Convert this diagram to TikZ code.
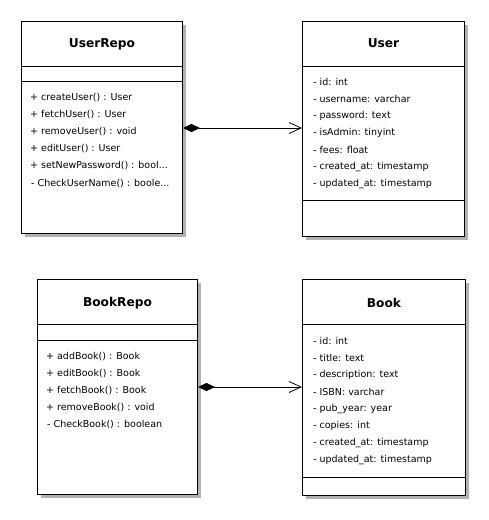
\documentclass[tikz,border=0pt]{standalone}
\usepackage{fontspec}
\setmainfont{DejaVu Sans}
\usetikzlibrary{arrows.meta,shadows}

\tikzset{
  classbox/.style={draw, fill=white, line width=1pt, anchor=north west,
    drop shadow={shadow xshift=3pt, shadow yshift=-3pt, fill=black!30, opacity=1}},
  classname/.style={font=\fontsize{12.2}{14}\bfseries\selectfont},
  member/.style={anchor=west, inner sep=0pt, font=\fontsize{9.5}{11}\selectfont},
  composition/.style={line width=0.8pt,
    {Diamond[length=17pt,width=8pt]}-{Straight Barb[length=12pt,width=11pt,line width=0.8pt]}}
}

\begin{document}
\begin{tikzpicture}[x=1pt, y=-1pt]
  \useasboundingbox[fill=white] (0,0) rectangle (489,520);

  % the four classes
  \node[classbox, minimum width=161pt, minimum height=212pt] (userrepo) at (21,21) {};
  \node[classbox, minimum width=162pt, minimum height=215pt] (user) at (302,21) {};
  \node[classbox, minimum width=160pt, minimum height=215pt] (bookrepo) at (37,279) {};
  \node[classbox, minimum width=163pt, minimum height=216pt] (book) at (302,279) {};

  % UserRepo
  \node[classname] (userrepoName) at (userrepo.north |- 0,44) {UserRepo};
  \draw (userrepo.west |- 0,66) -- (userrepo.east |- 0,66);
  \draw (userrepo.west |- 0,81) -- (userrepo.east |- 0,81);
  \node[member] (ur1) at (30,98) {+ createUser() : User};
  \node[member] (ur2) at (30,115) {+ fetchUser() : User};
  \node[member] (ur3) at (30,132) {+ removeUser() : void};
  \node[member] (ur4) at (30,149) {+ editUser() : User};
  \node[member] (ur5) at (30,166) {+ setNewPassword() : bool...};
  \node[member] (ur6) at (31,184) {- CheckUserName() : boole...};

  % User
  \node[classname] (userName) at (user.north |- 0,43) {User};
  \draw (user.west |- 0,66) -- (user.east |- 0,66);
  \node[member] (u1) at (313,82) {- id: int};
  \node[member] (u2) at (313,99) {- username: varchar};
  \node[member] (u3) at (313,116) {- password: text};
  \node[member] (u4) at (313,133) {- isAdmin: tinyint};
  \node[member] (u5) at (313,150) {- fees: float};
  \node[member] (u6) at (313,167) {- created\_at: timestamp};
  \node[member] (u7) at (313,184) {- updated\_at: timestamp};
  \draw (user.west |- 0,200) -- (user.east |- 0,200);

  % BookRepo
  \node[classname] (bookrepoName) at (bookrepo.north |- 0,303) {BookRepo};
  \draw (bookrepo.west |- 0,324) -- (bookrepo.east |- 0,324);
  \draw (bookrepo.west |- 0,340) -- (bookrepo.east |- 0,340);
  \node[member] (br1) at (46,357) {+ addBook() : Book};
  \node[member] (br2) at (46,374) {+ editBook() : Book};
  \node[member] (br3) at (46,391) {+ fetchBook() : Book};
  \node[member] (br4) at (46,408) {+ removeBook() : void};
  \node[member] (br5) at (47,425) {- CheckBook() : boolean};

  % Book
  \node[classname] (bookName) at (book.north |- 0,303) {Book};
  \draw (book.west |- 0,324) -- (book.east |- 0,324);
  \node[member] (b1) at (313,341) {- id: int};
  \node[member] (b2) at (313,358) {- title: text};
  \node[member] (b3) at (313,375) {- description: text};
  \node[member] (b4) at (313,392) {- ISBN: varchar};
  \node[member] (b5) at (313,409) {- pub\_year: year};
  \node[member] (b6) at (313,426) {- copies: int};
  \node[member] (b7) at (313,443) {- created\_at: timestamp};
  \node[member] (b8) at (313,460) {- updated\_at: timestamp};
  \draw (book.west |- 0,477) -- (book.east |- 0,477);

  % associations
  \draw[composition] (userrepo.east |- 0,128) -- (user.west |- 0,128);
  \draw[composition] (bookrepo.east |- 0,387) -- (book.west |- 0,387);
\end{tikzpicture}
\end{document}
